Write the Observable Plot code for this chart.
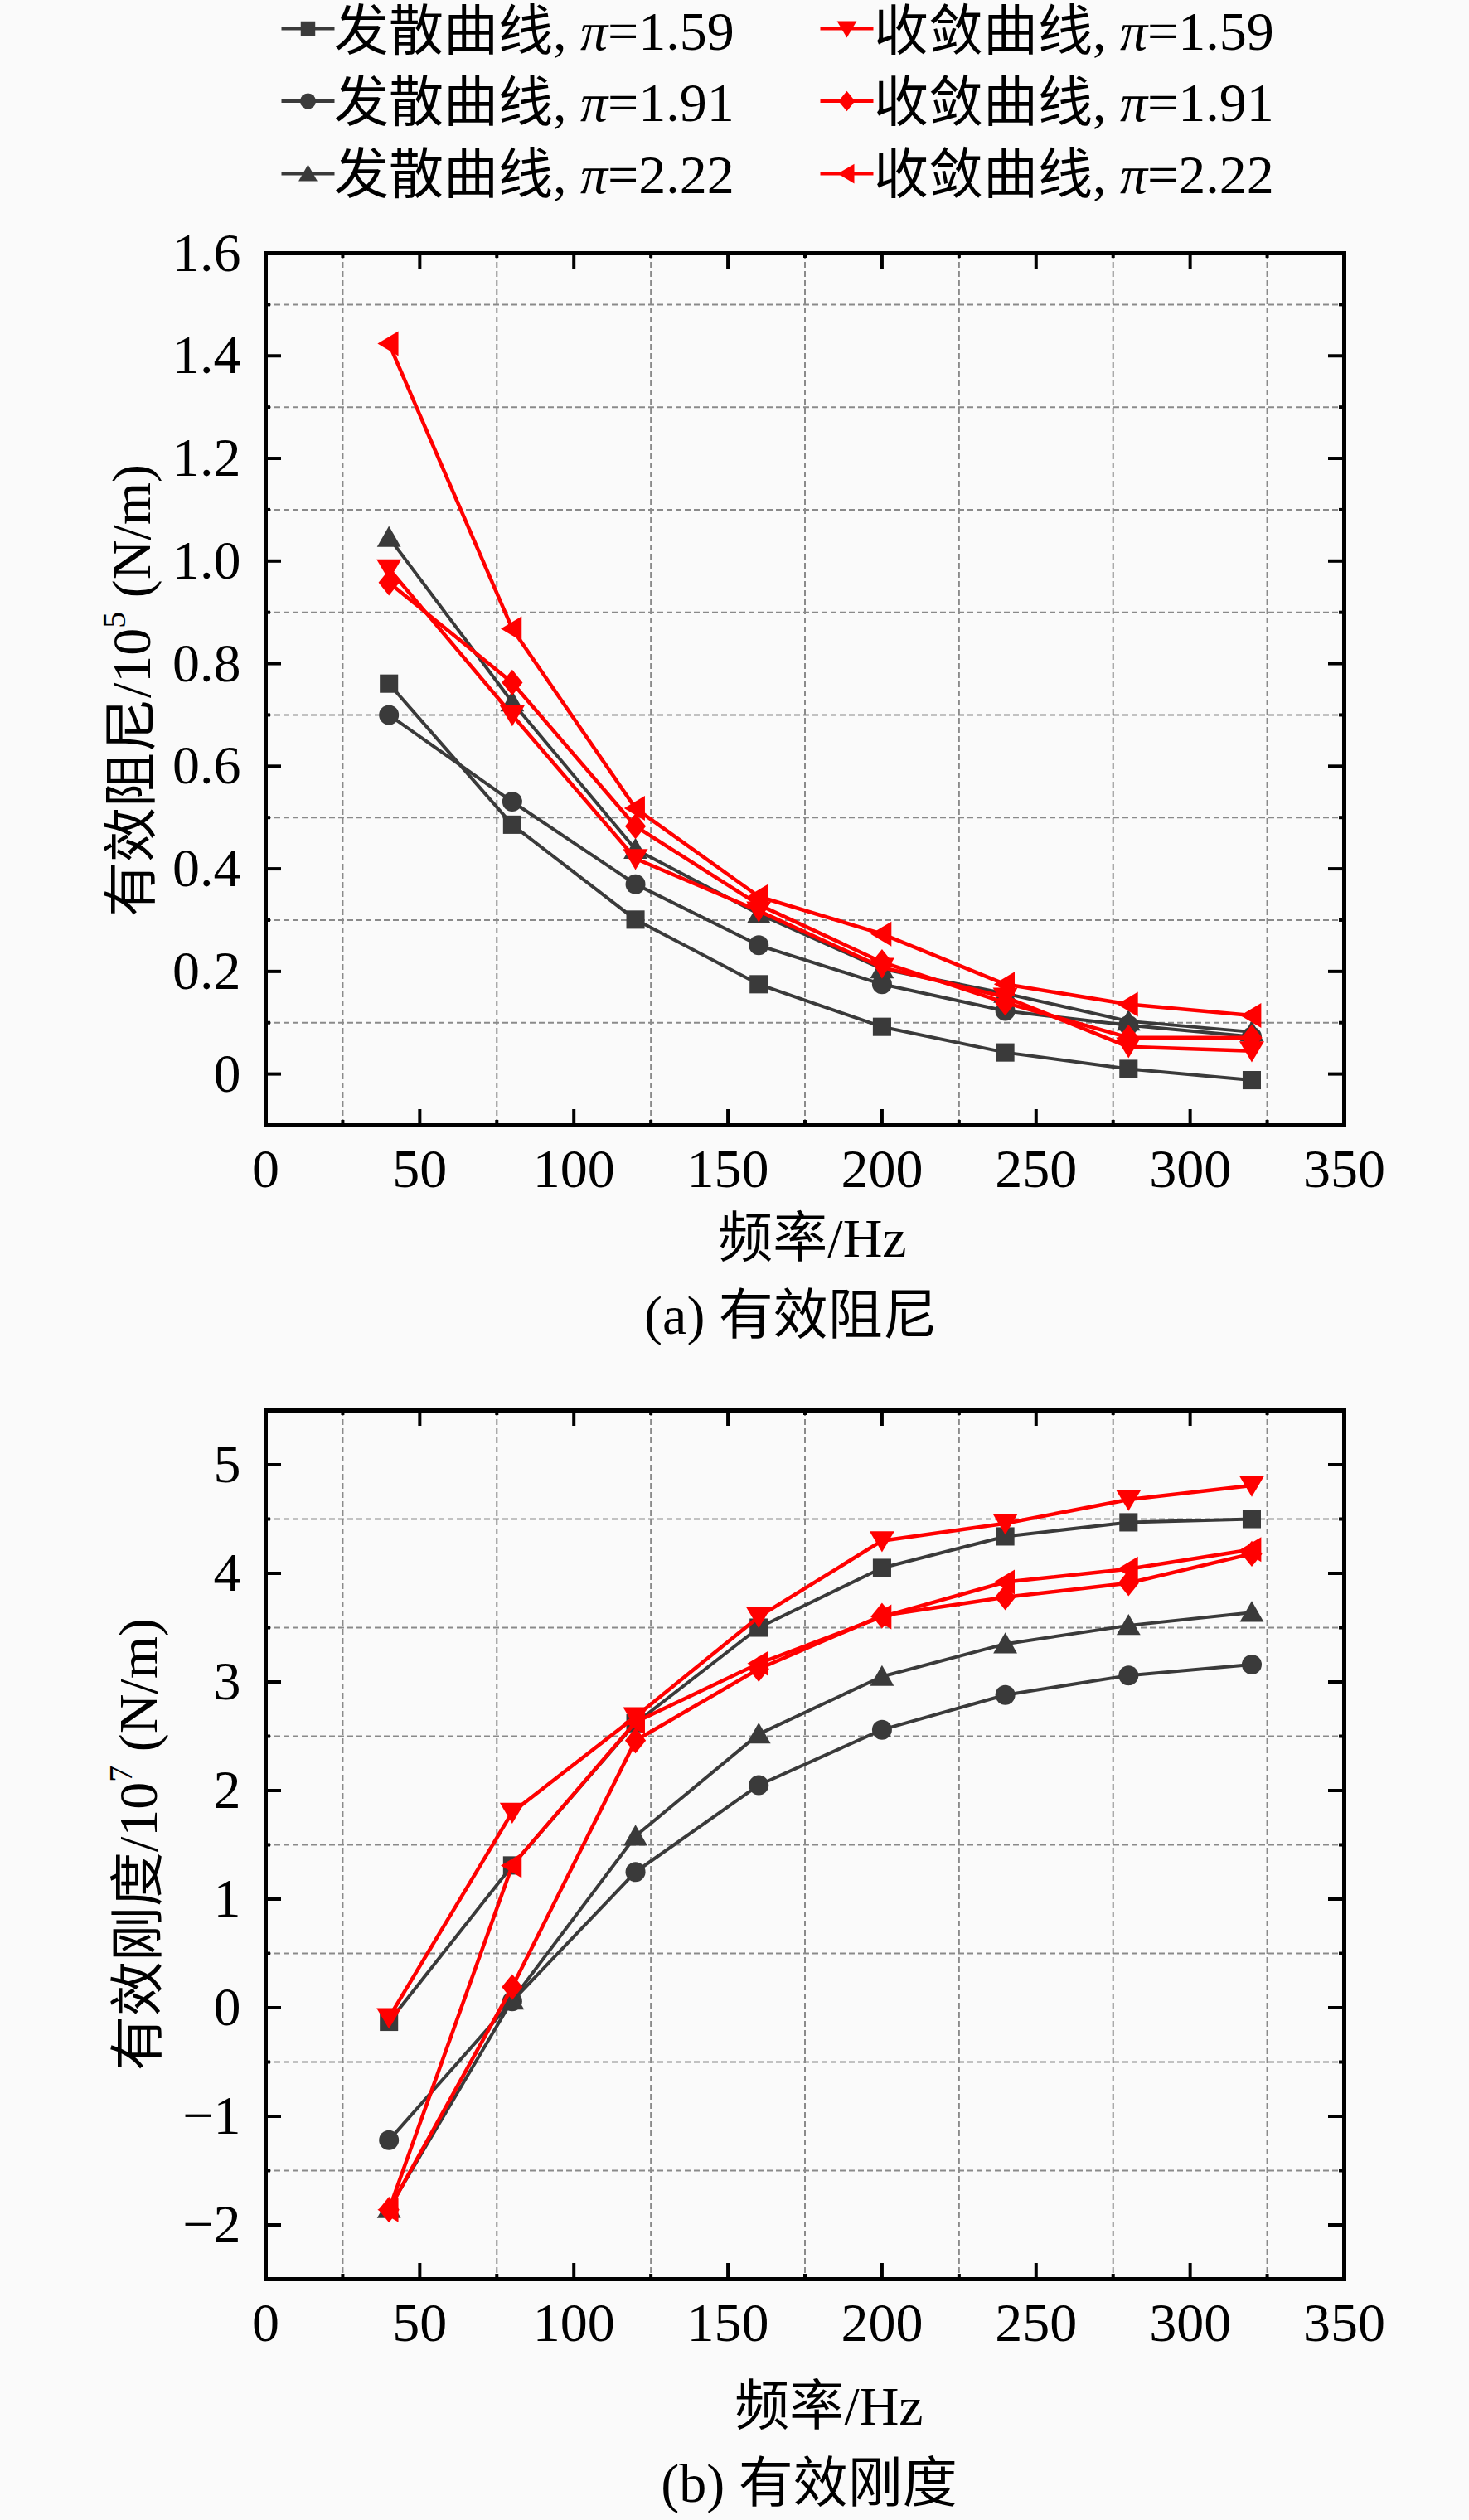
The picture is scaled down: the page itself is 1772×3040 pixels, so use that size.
<!DOCTYPE html>
<html><head><meta charset="utf-8">
<script src="https://cdn.jsdelivr.net/npm/d3@7"></script>
<script src="https://cdn.jsdelivr.net/npm/@observablehq/plot@0.6"></script>
<style>
body{margin:0;background:#fafafa;}
#page{position:relative;width:1772px;height:3040px;overflow:hidden;background:#fafafa;font-family:"Liberation Serif","Times New Roman","Noto Sans CJK SC",serif;color:#000;}
.abs{position:absolute;white-space:nowrap;font-size:66px;line-height:66px;}
.c{transform:translate(-50%,-50%);}
.r{transform:translate(-50%,-50%) rotate(-90deg);}
.holder{position:absolute;left:0;}
.sup{font-size:0.6em;position:relative;top:-0.75em;}
</style></head><body><div id="page"></div>
<script>
// ---------------- data ----------------
const freq = [40, 80, 120, 160, 200, 240, 280, 320];
const xTicks = [0, 50, 100, 150, 200, 250, 300, 350];
const xGrid = [25, 75, 125, 175, 225, 275, 325];

const dampTicks = [0, 0.2, 0.4, 0.6, 0.8, 1.0, 1.2, 1.4, 1.6];
const dampGrid = [0.1, 0.3, 0.5, 0.7, 0.9, 1.1, 1.3, 1.5];
const stiffTicks = [-2, -1, 0, 1, 2, 3, 4, 5];
const stiffGrid = [-1.5, -0.5, 0.5, 1.5, 2.5, 3.5, 4.5];

const curveNames = ["发散曲线", "收敛曲线"];
const piValues = ["1.59", "1.91", "2.22"];

// 有效阻尼 /10^5 (N/m)
const dampDiv159 = [0.761, 0.486, 0.301, 0.175, 0.092, 0.042, 0.010, -0.012];
const dampDiv191 = [0.700, 0.531, 0.370, 0.251, 0.175, 0.123, 0.095, 0.073];
const dampDiv222 = [1.046, 0.725, 0.438, 0.312, 0.205, 0.157, 0.103, 0.082];
const dampCon159 = [0.985, 0.700, 0.420, 0.318, 0.208, 0.150, 0.053, 0.045];
const dampCon191 = [0.958, 0.763, 0.483, 0.330, 0.218, 0.139, 0.071, 0.071];
const dampCon222 = [1.424, 0.868, 0.518, 0.346, 0.273, 0.175, 0.136, 0.114];

// 有效刚度 /10^7 (N/m)
const stiffDiv159 = [-0.13, 1.31, 2.62, 3.50, 4.05, 4.34, 4.47, 4.50];
const stiffDiv191 = [-1.22, 0.06, 1.25, 2.05, 2.56, 2.88, 3.06, 3.16];
const stiffDiv222 = [-1.85, 0.07, 1.58, 2.52, 3.05, 3.35, 3.52, 3.64];
const stiffCon159 = [-0.09, 1.80, 2.68, 3.60, 4.30, 4.46, 4.68, 4.81];
const stiffCon191 = [-1.86, 0.19, 2.46, 3.12, 3.61, 3.78, 3.91, 4.18];
const stiffCon222 = [-1.86, 1.31, 2.63, 3.17, 3.60, 3.92, 4.04, 4.22];

// ---------------- symbols ----------------
function poly(pts){return {draw(ctx,size){const r=Math.sqrt(size/Math.PI);pts.forEach(([x,y],i)=>i?ctx.lineTo(x*r,y*r):ctx.moveTo(x*r,y*r));ctx.closePath();}};}
const symSquare = poly([[-0.92,-0.92],[0.92,-0.92],[0.92,0.92],[-0.92,0.92]]);
const symCircle = {draw(ctx,size){const r=Math.sqrt(size/Math.PI);ctx.moveTo(r,0);ctx.arc(0,0,r,0,2*Math.PI);ctx.closePath();}};
const symUp = poly([[0,-1.15],[1.2,0.95],[-1.2,0.95]]);
const symDown = poly([[0,1.15],[1.25,-0.95],[-1.25,-0.95]]);
const symLeft = poly([[-1.15,0],[0.95,-1.25],[0.95,1.25]]);
const symDiamond = poly([[0,-1.3],[1.05,0],[0,1.3],[-1.05,0]]);
const symDash = {draw(ctx,size){const r=Math.sqrt(size/Math.PI);ctx.moveTo(-r,0);ctx.lineTo(r,0);}};

const BLACK = "#3a3a3a", RED = "#ff0000";
const styles = [
  {col:0,row:0,symbol:symSquare,color:BLACK,lw:4},
  {col:0,row:1,symbol:symCircle,color:BLACK,lw:4},
  {col:0,row:2,symbol:symUp,color:BLACK,lw:4},
  {col:1,row:0,symbol:symDown,color:RED,lw:4.5},
  {col:1,row:1,symbol:symDiamond,color:RED,lw:4.5},
  {col:1,row:2,symbol:symLeft,color:RED,lw:4.5}
];
const dampSeries = [dampDiv159, dampDiv191, dampDiv222, dampCon159, dampCon191, dampCon222];
const stiffSeries = [stiffDiv159, stiffDiv191, stiffDiv222, stiffCon159, stiffCon191, stiffCon222];

const W = 1772;
const FONT = '"Liberation Serif","Times New Roman","Noto Sans CJK SC",serif';
const page = document.getElementById("page");

function chart({values, yDomain, yTicks, yGrid, yFmt, height, mTop, mBottom}){
  const mLeft = 320, mRight = 151;
  const xDomain = [0, 350];
  const fw = W - mLeft - mRight, fh = height - mTop - mBottom;
  const ux = (xDomain[1]-xDomain[0]) / fw, uy = (yDomain[1]-yDomain[0]) / fh;
  const [x0, x1] = xDomain, [y0, y1] = yDomain;
  const grid = {stroke:"#8a8a8a", strokeWidth:2, strokeDasharray:"7,4"};
  const marks = [
    Plot.ruleX(xGrid, {x:d=>d, ...grid}),
    Plot.ruleY(yGrid, {y:d=>d, ...grid})
  ];
  values.forEach((vals, k) => {
    const s = styles[k];
    const data = freq.map((f, i) => ({f, v: vals[i]}));
    marks.push(Plot.line(data, {x:"f", y:"v", stroke:s.color, strokeWidth:s.lw, strokeLinejoin:"round"}));
    marks.push(Plot.dot(data, {x:"f", y:"v", symbol:s.symbol, fill:s.color, r:12}));
  });
  const tk = {stroke:"#000", strokeWidth:4};
  const xMaj = xTicks.filter(d => d > x0 && d < x1);
  const yMaj = yTicks.filter(d => d > y0 && d < y1);
  marks.push(
    Plot.ruleX(xMaj, {x:d=>d, y1:y0, y2:y0 + 19*uy, ...tk}),
    Plot.ruleX(xMaj, {x:d=>d, y1:y1, y2:y1 - 19*uy, ...tk}),
    Plot.ruleX(xGrid, {x:d=>d, y1:y0, y2:y0 + 6*uy, ...tk}),
    Plot.ruleX(xGrid, {x:d=>d, y1:y1, y2:y1 - 6*uy, ...tk}),
    Plot.ruleY(yMaj, {y:d=>d, x1:x0, x2:x0 + 19*ux, ...tk}),
    Plot.ruleY(yMaj, {y:d=>d, x1:x1, x2:x1 - 19*ux, ...tk}),
    Plot.ruleY(yGrid, {y:d=>d, x1:x0, x2:x0 + 6*ux, ...tk}),
    Plot.ruleY(yGrid, {y:d=>d, x1:x1, x2:x1 - 6*ux, ...tk}),
    Plot.frame({stroke:"#000", strokeWidth:5})
  );
  return Plot.plot({
    width: W, height, marginTop: mTop, marginBottom: mBottom, marginLeft: mLeft, marginRight: mRight,
    x: {domain: xDomain, ticks: xTicks, tickSize: 0, tickPadding: 28, tickFormat: d => String(d), label: null},
    y: {domain: yDomain, ticks: yTicks, tickSize: 0, tickPadding: 30, tickFormat: yFmt, label: null},
    style: {background: "transparent", fontFamily: FONT, fontSize: "66px", color: "#000", overflow: "visible"},
    marks
  });
}

function place(node, top){
  const d = document.createElement("div");
  d.className = "holder"; d.style.top = top + "px";
  d.appendChild(node); page.appendChild(d);
}
function text(html, x, y, cls){
  const d = document.createElement("div");
  d.className = "abs " + cls; d.style.left = x + "px"; d.style.top = y + "px";
  d.innerHTML = html; page.appendChild(d);
}

// ---------------- legend ----------------
const legendItems = styles.map(s => ({...s, label: curveNames[s.col], pi: piValues[s.row]}));
const legendMarks = [];
legendItems.forEach(it => {
  legendMarks.push(Plot.dot([it], {x:"col", y:"row", symbol:symDash, stroke:it.color, fill:"none", strokeWidth:4, r:32}));
  legendMarks.push(Plot.dot([it], {x:"col", y:"row", symbol:it.symbol, fill:it.color, r:9.5}));
});
place(Plot.plot({
  width: W, height: 250, margin: 0,
  x: {domain: [0, 1], range: [371, 1021], axis: null},
  y: {domain: [0, 2], range: [34, 209], axis: null},
  style: {background: "transparent"},
  marks: legendMarks
}), 0);
const rowY = [36, 122, 209];
legendItems.forEach(it => {
  const d = document.createElement("div");
  d.className = "abs";
  d.style.left = (it.col ? 1054 : 403) + "px";
  d.style.top = (rowY[it.row] - 31) + "px";
  d.innerHTML = `${it.label}, <i>π</i>=${it.pi}`;
  page.appendChild(d);
});

// ---------------- chart (a) ----------------
place(chart({values: dampSeries, yDomain: [-0.1, 1.6], yTicks: dampTicks, yGrid: dampGrid,
  yFmt: d => d === 0 ? "0" : d.toFixed(1), height: 1210, mTop: 55, mBottom: 103}), 250);
text("频率/Hz", 980, 1494, "c");
text("(a) 有效阻尼", 954, 1587, "c");
text('有效阻尼/10<span class="sup">5</span> (N/m)', 163, 833, "r");

// ---------------- chart (b) ----------------
place(chart({values: stiffSeries, yDomain: [-2.5, 5.5], yTicks: stiffTicks, yGrid: stiffGrid,
  yFmt: d => (d < 0 ? "\u2212" : "") + Math.abs(d), height: 1210, mTop: 61, mBottom: 101}), 1640);
text("频率/Hz", 1000, 2903, "c");
text("(b) 有效刚度", 976, 2996, "c");
text('有效刚度/10<span class="sup">7</span> (N/m)', 171, 2225, "r");
</script></body></html>
